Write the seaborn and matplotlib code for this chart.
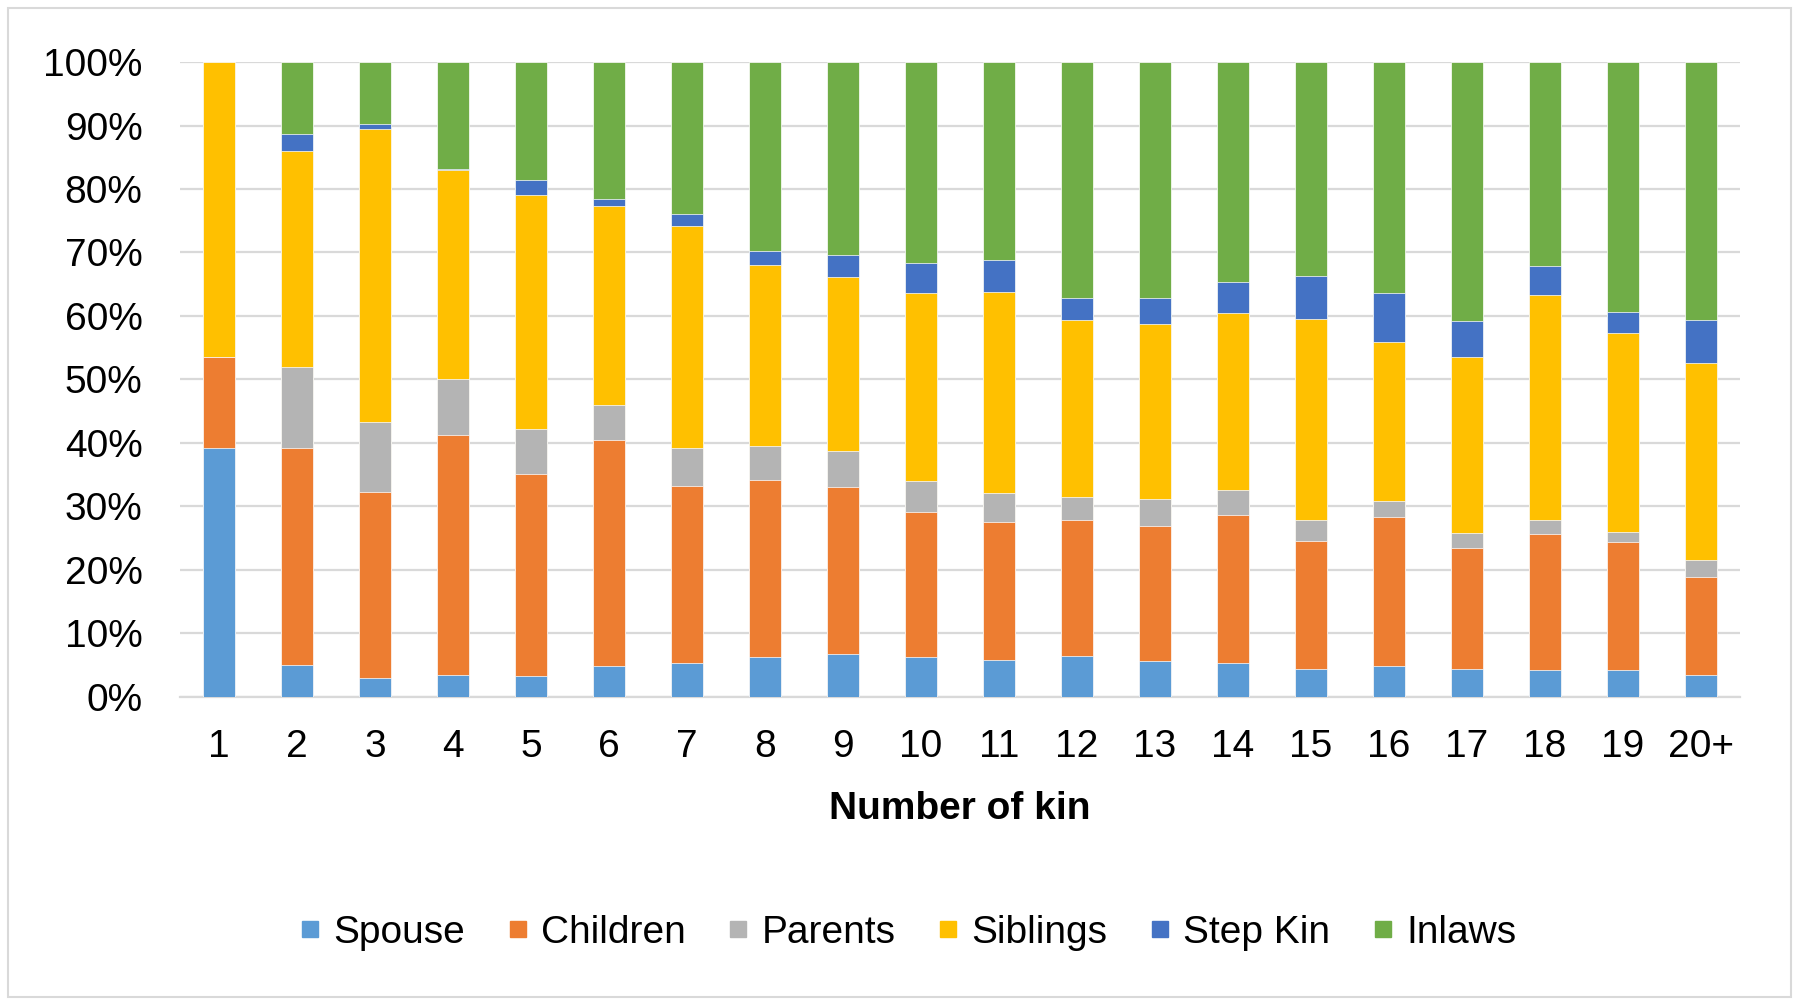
import matplotlib
matplotlib.use("Agg")
import matplotlib.pyplot as plt
from matplotlib.lines import Line2D
from matplotlib.patches import Rectangle
import numpy as np
import pandas as pd
import seaborn as sns

# share of each kin type (%) by number of kin
categories = ['1', '2', '3', '4', '5', '6', '7', '8', '9', '10',
              '11', '12', '13', '14', '15', '16', '17', '18', '19', '20+']
spouse   = [39.2, 5.0, 3.0, 3.5, 3.3, 4.9, 5.4, 6.3, 6.8, 6.3, 5.9, 6.5, 5.7, 5.3, 4.4, 4.8, 4.4, 4.2, 4.2, 3.5]
children = [14.3, 34.2, 29.3, 37.8, 31.8, 35.5, 27.8, 27.9, 26.2, 22.9, 21.6, 21.3, 21.2, 23.4, 20.1, 23.5, 19.0, 21.5, 20.2, 15.4]
parents  = [0.0, 12.7, 11.0, 8.8, 7.1, 5.6, 6.0, 5.4, 5.8, 4.8, 4.7, 3.7, 4.2, 3.9, 3.3, 2.6, 2.5, 2.2, 1.6, 2.6]
siblings = [46.5, 34.1, 46.2, 32.9, 36.9, 31.3, 35.0, 28.5, 27.3, 29.6, 31.5, 27.8, 27.6, 27.9, 31.7, 25.0, 27.6, 35.4, 31.4, 31.1]
step_kin = [0.0, 2.6, 0.8, 0.2, 2.3, 1.2, 1.8, 2.2, 3.5, 4.7, 5.1, 3.6, 4.2, 4.8, 6.8, 7.7, 5.7, 4.6, 3.3, 6.7]
inlaws   = [0.0, 11.4, 9.7, 16.8, 18.6, 21.5, 24.0, 29.7, 30.4, 31.7, 31.2, 37.1, 37.1, 34.7, 33.7, 36.4, 40.8, 32.1, 39.3, 40.7]

series_names = ['Spouse', 'Children', 'Parents', 'Siblings', 'Step Kin', 'Inlaws']
colors = ['#5B9BD5', '#ED7D31', '#B4B4B4', '#FFC000', '#4472C4', '#70AD47']

df = pd.DataFrame({'kin': categories, 'Spouse': spouse, 'Children': children,
                   'Parents': parents, 'Siblings': siblings,
                   'Step Kin': step_kin, 'Inlaws': inlaws})
vals = df[series_names]
df_pct = vals.div(vals.sum(axis=1), axis=0) * 100
cum = df_pct.cumsum(axis=1)
cum['kin'] = categories

sns.set_style("white")
plt.rcParams['font.family'] = ['Liberation Sans', 'DejaVu Sans']
plt.rcParams['text.color'] = 'black'

fig = plt.figure(figsize=(18, 10.05), dpi=100)
ax = fig.add_axes([0.1, 0.3065, 0.8667, 0.6318])

# draw cumulative totals from the top series down so each layer shows
for i in range(len(series_names) - 1, -1, -1):
    sns.barplot(data=cum, x='kin', y=series_names[i], color=colors[i],
                width=0.4, saturation=1, ax=ax, zorder=3,
                edgecolor='white', linewidth=0.5)

ax.set_ylim(0, 100)
ax.set_xlim(-0.5, len(categories) - 0.5)
ax.set_yticks(np.arange(0, 101, 10))
ax.set_yticklabels([f"{v}%" for v in range(0, 101, 10)])
ax.yaxis.grid(True, color='#d9d9d9', linewidth=1.6, zorder=0)
ax.set_axisbelow(True)
for s in ['top', 'right', 'left']:
    ax.spines[s].set_visible(False)
ax.spines['bottom'].set_color('#d9d9d9')
ax.spines['bottom'].set_linewidth(1.6)
ax.tick_params(axis='y', length=0, pad=27, labelsize=28, labelcolor='black')
ax.tick_params(axis='x', length=0, pad=23, labelsize=28, labelcolor='black')
ax.set_ylabel('')
ax.set_xlabel('Number of kin', fontsize=28, fontweight='bold', color='black')
ax.xaxis.set_label_coords(0.5, -0.148)

handles = [Line2D([0], [0], marker='s', linestyle='', markersize=12,
                  markerfacecolor=c, markeredgecolor=c) for c in colors]
fig.legend(handles, series_names, loc='center', bbox_to_anchor=(0.503, 0.072),
           ncol=6, frameon=False, fontsize=28, handletextpad=0.2,
           columnspacing=0.95, handlelength=0.8)

fig.patches.append(Rectangle((8 / 1800, 8 / 1005), 1783 / 1800, 989 / 1005,
                             transform=fig.transFigure, fill=False,
                             edgecolor='#d9d9d9', linewidth=1.5))

fig.savefig('out.png', dpi=100)
